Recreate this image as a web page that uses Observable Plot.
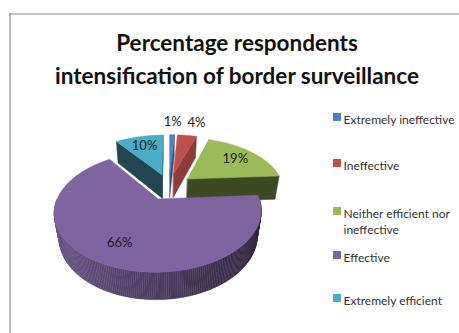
<!DOCTYPE html>
<html><head><meta charset="utf-8">
<script src="https://cdn.jsdelivr.net/npm/d3@7"></script>
<script src="https://cdn.jsdelivr.net/npm/@observablehq/plot@0.6"></script>
<style>
html,body{margin:0;padding:0;background:#fff;}
#chart{width:459px;height:333px;overflow:hidden;}
</style></head><body><div id="chart"></div>
<script>
// ---- data ----
const categories = ["Extremely ineffective", "Ineffective", "Neither efficient nor ineffective", "Effective", "Extremely efficient"];
const values = [1, 4, 19, 66, 10];
const valueLabels = ["1%", "4%", "19%", "66%", "10%"];
const titleLines = ["Percentage respondents", "intensification of border surveillance"];

// ---- style ----
const palette = ["#4F81BD", "#C0504D", "#9BBB59", "#8064A2", "#4BACC6"];
const cutShade = ["#33557F", "#8E3C3A", "#3C4922", "#3A2D4C", "#1F4651"];

// ---- 3D projection (layout) ----
const W = 459, H = 333;
const cx = 168.5, cy = 186, k = 96.3, phi = 32.8 * Math.PI / 180, dist = 4.06, depthH = 0.31, explode = 0.25;
const sP = Math.sin(phi), cP = Math.cos(phi);
function proj(X, Y, Z) {
  const sy = Y * cP - Z * sP;
  const dep = Y * sP + Z * cP;
  const sc = 1 / (1 - dep / dist);
  return [cx + k * X * sc, cy - k * sy * sc];
}

const total = d3.sum(values);
let acc = 0;
const slices = values.map((v, i) => {
  const a0 = acc / total * 2 * Math.PI; acc += v;
  const a1 = acc / total * 2 * Math.PI;
  const am = (a0 + a1) / 2;
  const ox = Math.sin(am) * explode, oz = -Math.cos(am) * explode;
  return {i, a0, a1, am, ox, oz};
});

const faces = [];
let fid = 0;
function addPoly(pts, fill) {
  const id = fid++;
  for (const [x, y] of pts) faces.push({id, x, y, fill});
}
function rim(s, a, Y, r = 1) { return proj(s.ox + r * Math.sin(a), Y, s.oz - r * Math.cos(a)); }

const order = [...slices].sort((a, b) => a.oz - b.oz);
for (const s of order) {
  const apexT = proj(s.ox, 0, s.oz), apexB = proj(s.ox, -depthH, s.oz);
  const half = (s.a1 - s.a0) / 2;
  const visStart = -Math.cos(s.a0 - Math.PI / 2) * dist * cP + explode * Math.sin(half);
  if (visStart > 0.05 && s.a1 - s.a0 < 2 * Math.PI)
    addPoly([apexT, rim(s, s.a0, 0), rim(s, s.a0, -depthH), apexB], cutShade[s.i]);
  const visEnd = -Math.cos(s.a1 + Math.PI / 2) * dist * cP + explode * Math.sin(half);
  if (visEnd > 0.05 && s.a1 - s.a0 < 2 * Math.PI)
    addPoly([apexT, rim(s, s.a1, 0), rim(s, s.a1, -depthH), apexB], cutShade[s.i]);
  const w0 = Math.max(s.a0, Math.PI / 2), w1 = Math.min(s.a1, 3 * Math.PI / 2);
  if (w1 > w0) {
    const n = Math.ceil((w1 - w0) / (Math.PI / 180));
    const base = d3.rgb(palette[s.i]);
    for (let j = 0; j < n; j++) {
      const a = w0 + (w1 - w0) * j / n, b = w0 + (w1 - w0) * (j + 1) / n;
      const m = (a + b) / 2;
      const f = 0.6 - 0.25 * Math.sin(m);
      const col = d3.rgb(base.r * f, base.g * f, base.b * f).formatHex();
      addPoly([rim(s, a, 0), rim(s, b, 0), rim(s, b, -depthH), rim(s, a, -depthH)], col);
    }
  }
  const n = Math.max(2, Math.ceil((s.a1 - s.a0) / (Math.PI / 180)));
  const pts = [apexT];
  for (let j = 0; j <= n; j++) pts.push(rim(s, s.a0 + (s.a1 - s.a0) * j / n, 0));
  addPoly(pts, palette[s.i]);
}

// labels: small slices outside (above), others inside
const labelData = slices.map(s => {
  const outside = values[s.i] < 5;
  const r = outside ? 1.41 : 0.73;
  const [x, y] = proj(s.ox + r * Math.sin(s.am), 0, s.oz - r * Math.cos(s.am));
  const anchor = outside && Math.sin(s.am) > 0.1 ? "start" : "middle";
  return {x, y, text: valueLabels[s.i], anchor};
});

// legend layout
const legendY = [117, 163, 211, 255, 298];
const legend = categories.map((c, i) => ({c, i, y: legendY[i]}));

const chart = Plot.plot({
  width: W, height: H,
  margin: 0,
  x: {type: "identity", axis: null},
  y: {type: "identity", axis: null},
  color: {type: "identity"},
  style: {fontFamily: "Lato, 'Open Sans', sans-serif", background: "#fff"},
  marks: [
    Plot.ruleX([9.5], {y1: 13, y2: H, stroke: "#8c8c8c", strokeWidth: 1.2}),
    Plot.ruleY([13.5], {x1: 9, x2: W, stroke: "#8c8c8c", strokeWidth: 1.2}),
    Plot.line(faces, {x: "x", y: "y", z: "id", fill: "fill", stroke: "fill", strokeWidth: 0.5, curve: "linear-closed", strokeLinejoin: "round"}),
    Plot.text(labelData.filter(d => d.anchor === "middle"), {x: "x", y: "y", text: "text", fontSize: 13, fill: "#1a1a1a"}),
    Plot.text(labelData.filter(d => d.anchor === "start"), {x: "x", y: "y", text: "text", textAnchor: "start", dx: -4, fontSize: 13, fill: "#1a1a1a"}),
    Plot.text(titleLines, {x: 236.5, y: (d, i) => 43 + 33 * i, text: d => d, fontSize: 22.5, fontWeight: "bold", fill: "#111"}),
    Plot.rect(legend, {x1: 333, x2: 341, y1: d => d.y - 4, y2: d => d.y + 4, fill: d => palette[d.i]}),
    Plot.text(legend, {x: 343, y: d => d.y - 5, text: "c", textAnchor: "start", lineAnchor: "top", lineWidth: 11, lineHeight: 1.35, fontSize: 12, fill: "#333"})
  ]
});
document.getElementById("chart").appendChild(chart);
</script></body></html>
